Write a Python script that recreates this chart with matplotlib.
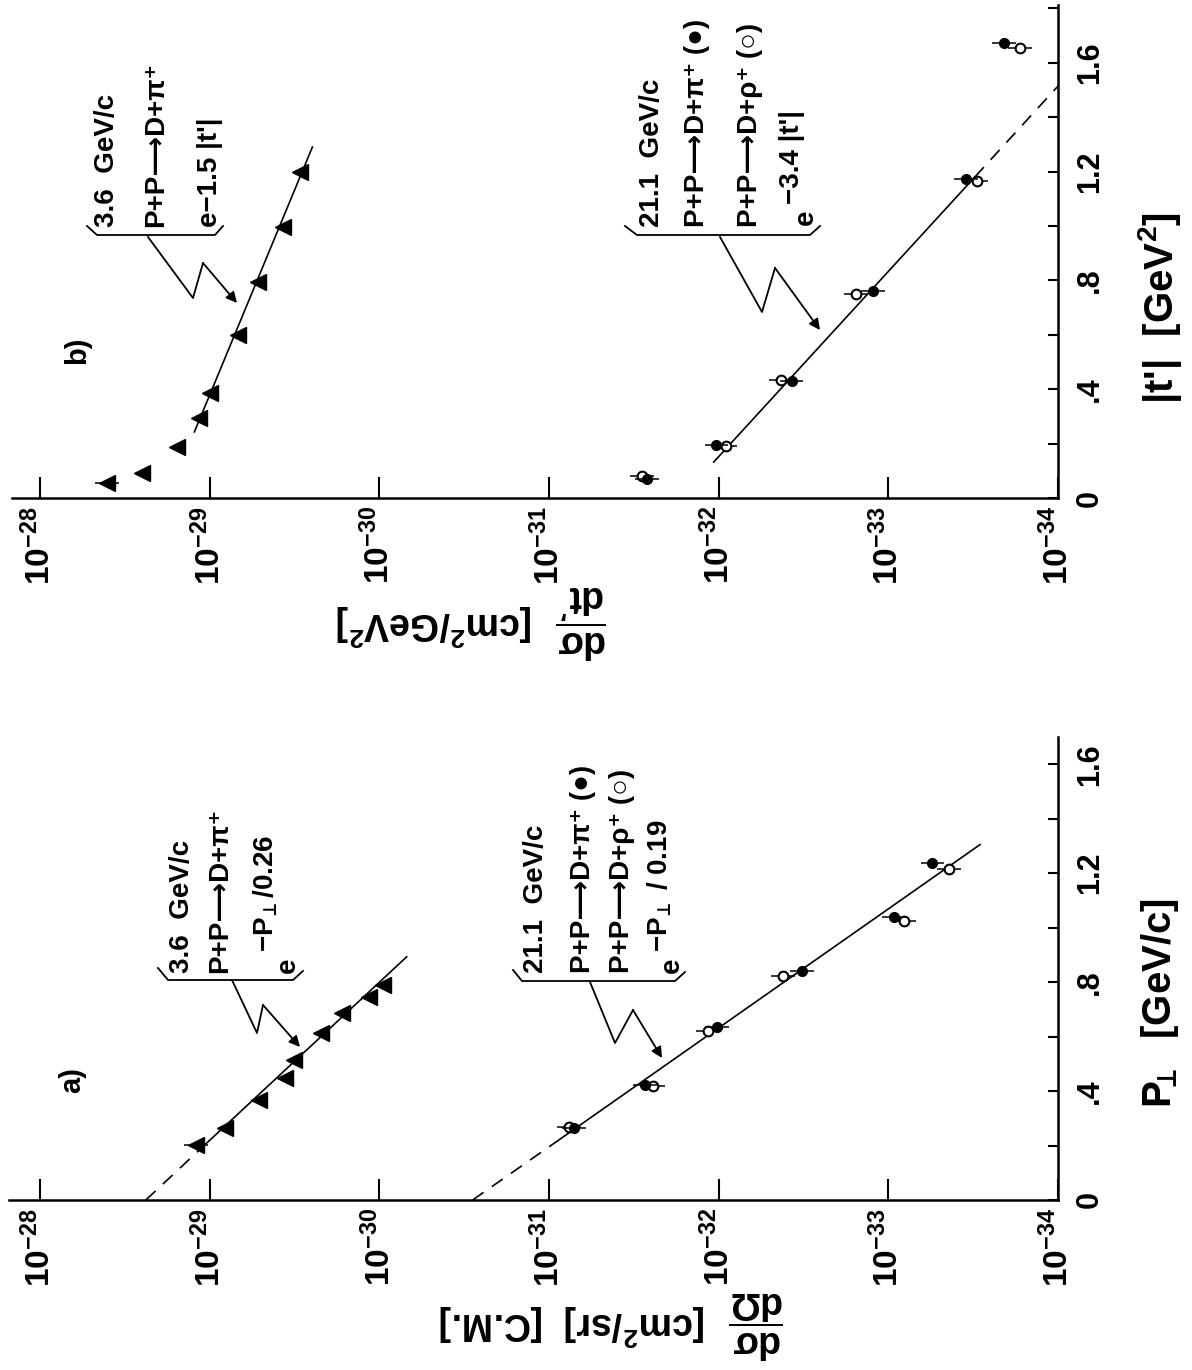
import numpy as np
import matplotlib
matplotlib.use("Agg")
import matplotlib.pyplot as plt
from matplotlib.lines import Line2D
from matplotlib.patches import FancyArrowPatch
from matplotlib.ticker import NullLocator, FixedLocator, FixedFormatter

plt.rcParams['font.family'] = ['Liberation Sans', 'DejaVu Sans']
plt.rcParams['font.weight'] = 'bold'
plt.rcParams['mathtext.fontset'] = 'custom'
for k in ('rm', 'it', 'bf', 'sf'):
    plt.rcParams['mathtext.' + k] = 'Liberation Sans:bold'
plt.rcParams['mathtext.fallback'] = 'stixsans'

W, H = 1192, 1370

# ---------------- data ----------------
# panel a) : dsigma/dOmega vs P_perp
pt_a36 = [0.202, 0.265, 0.368, 0.449, 0.515, 0.614, 0.688, 0.746, 0.790]
xs_a36 = [1.20e-29, 8.1e-30, 5.1e-30, 3.6e-30, 3.2e-30, 2.2e-30, 1.66e-30, 1.15e-30, 9.5e-31]

pt_a21_pi = [0.265, 0.423, 0.636, 0.842, 1.040, 1.239]
xs_a21_pi = [7.1e-32, 2.72e-32, 1.02e-32, 3.24e-33, 9.3e-34, 5.5e-34]
pt_a21_rho = [0.268, 0.419, 0.621, 0.824, 1.026, 1.217]
xs_a21_rho = [7.6e-32, 2.45e-32, 1.16e-32, 4.17e-33, 8.1e-34, 4.4e-34]

# fit lines (dashed part, then solid part)
fit_a36_P = [0.0, 0.184, 0.893]
fit_a36_x = [2.38e-29, 1.15e-29, 6.9e-31]
fit_a21_P = [0.0, 0.213, 1.305]
fit_a21_x = [2.82e-31, 9.1e-32, 2.88e-34]

# panel b) : dsigma/dt' vs |t'|
t_b36 = [0.055, 0.092, 0.188, 0.294, 0.386, 0.599, 0.794, 0.996, 1.199]
xs_b36 = [4.04e-29, 2.51e-29, 1.56e-29, 1.15e-29, 1.0e-29, 6.84e-30, 5.22e-30, 3.72e-30, 2.95e-30]

t_b21_pi = [0.070, 0.195, 0.430, 0.761, 1.173, 1.673]
xs_b21_pi = [2.65e-32, 1.03e-32, 3.72e-33, 1.23e-33, 3.47e-34, 2.09e-34]
t_b21_rho = [0.081, 0.191, 0.434, 0.750, 1.165, 1.654]
xs_b21_rho = [2.84e-32, 9.1e-33, 4.3e-33, 1.56e-33, 3.02e-34, 1.67e-34]

fit_b36_t = [0.243, 1.290]
fit_b36_x = [1.23e-29, 2.48e-30]
fit_b21_t = [0.132, 1.180, 1.514]   # solid, then dashed
fit_b21_x = [1.07e-32, 3.09e-34, 1.0e-34]

err_dec = 0.07   # half-length of the error bars in decades

log_ticks = [1e-28, 1e-29, 1e-30, 1e-31, 1e-32, 1e-33, 1e-34]
log_labels = [r"$\mathregular{10^{-%d}}$" % k for k in range(28, 35)]
p_ticks_a = [0.0, 0.2, 0.4, 0.6, 0.8, 1.0, 1.2, 1.4, 1.6]
p_labels_a = ["0", "", ".4", "", ".8", "", "1.2", "", "1.6"]
p_ticks_b = [0.0, 0.2, 0.4, 0.6, 0.8, 1.0, 1.2, 1.4, 1.6, 1.8]
p_labels_b = ["0", "", ".4", "", ".8", "", "1.2", "", "1.6", ""]

# ---------------- figure ----------------
fig = plt.figure(figsize=(W / 100, H / 100), dpi=100)
fig.patch.set_facecolor('white')


def fx(x):
    return x / W


def fy(y):
    return 1 - y / H


def make_axes(left, right, bottom, top, xleft, ymax, pticks, plabels):
    ax = fig.add_axes([fx(left), fy(bottom), (right - left) / W, (bottom - top) / H])
    ax.set_xscale('log')
    ax.set_xlim(xleft, 1e-34)
    ax.set_ylim(0, ymax)
    for s in ('top', 'left'):
        ax.spines[s].set_visible(False)
    for s in ('right', 'bottom'):
        ax.spines[s].set_linewidth(1.8)
    ax.xaxis.set_major_locator(FixedLocator(log_ticks))
    ax.xaxis.set_major_formatter(FixedFormatter(log_labels))
    ax.xaxis.set_minor_locator(NullLocator())
    ax.tick_params(axis='x', which='major', direction='in', length=15, width=1.5,
                   labelsize=24, labelrotation=90, pad=6, top=False)
    ax.yaxis.tick_right()
    ax.yaxis.set_major_locator(FixedLocator(pticks))
    ax.yaxis.set_major_formatter(FixedFormatter(plabels))
    ax.yaxis.set_minor_locator(NullLocator())
    ax.tick_params(axis='y', which='major', direction='in', length=7, width=1.5,
                   labelsize=22, labelrotation=90, pad=12, left=False, right=True)
    for lbl in ax.get_yticklabels():
        lbl.set_va('center')
    ax.patch.set_alpha(0)
    return ax


axA = make_axes(9, 1058, 1200, 737, 10 ** -27.817, 1.70, p_ticks_a, p_labels_a)
axB = make_axes(12, 1058, 498, 5, 10 ** -27.835, 1.812, p_ticks_b, p_labels_b)


def xerr_of(vals):
    v = np.asarray(vals)
    return [v - v * 10 ** (-err_dec), v * 10 ** err_dec - v]


def draw_pair(ax, P_pi, x_pi, P_rho, x_rho):
    ax.errorbar(x_rho, P_rho, xerr=xerr_of(x_rho), fmt='o', ms=7, mfc='white',
                mec='black', mew=1.5, ecolor='black', elinewidth=1.1, capsize=0, zorder=3)
    ax.errorbar(x_pi, P_pi, xerr=xerr_of(x_pi), fmt='o', ms=7, mfc='black',
                mec='black', ecolor='black', elinewidth=1.1, capsize=0, zorder=4)


def draw_tri(ax, P, x):
    ax.plot(x, P, linestyle='none', marker='<', ms=11, color='black', zorder=4)
    ax.errorbar(x[:1], P[:1], xerr=xerr_of(x[:1]), fmt='none', ecolor='black',
                elinewidth=1.1, capsize=0, zorder=3)


# panel a
draw_tri(axA, pt_a36, xs_a36)
draw_pair(axA, pt_a21_pi, xs_a21_pi, pt_a21_rho, xs_a21_rho)
for Pl, Xl in ((fit_a36_P, fit_a36_x), (fit_a21_P, fit_a21_x)):
    axA.plot(Xl[:2], Pl[:2], color='black', lw=1.2, dashes=(8, 6), clip_on=False)
    axA.plot(Xl[1:], Pl[1:], color='black', lw=1.2)

# panel b
draw_tri(axB, t_b36, xs_b36)
draw_pair(axB, t_b21_pi, xs_b21_pi, t_b21_rho, xs_b21_rho)
axB.plot(fit_b36_x, fit_b36_t, color='black', lw=1.2)
axB.plot(fit_b21_x[:2], fit_b21_t[:2], color='black', lw=1.2)
axB.plot(fit_b21_x[1:], fit_b21_t[1:], color='black', lw=1.2, dashes=(8, 6))

# ---------------- annotations (pixel positions) ----------------
ann_fs = 20


def vtext(s, cx, by, fs=ann_fs):
    fig.text(fx(cx), fy(by), s, rotation=90, ha='center', va='bottom', fontsize=fs)


def poly(pts):
    xs = [fx(p[0]) for p in pts]
    ys = [fy(p[1]) for p in pts]
    fig.add_artist(Line2D(xs, ys, color='black', lw=1.3, transform=fig.transFigure))


def zigzag(pts):
    poly(pts[:3])
    arr = FancyArrowPatch((fx(pts[2][0]), fy(pts[2][1])), (fx(pts[3][0]), fy(pts[3][1])),
                          arrowstyle='-|>', mutation_scale=16, color='black', lw=1.3,
                          shrinkA=0, shrinkB=0, transform=fig.transFigure)
    fig.add_artist(arr)


PI_LINE = "P+P\u27f6D+\u03c0\u207a"
RHO_LINE = "P+P\u27f6D+\u03c1\u207a"
PERP = r"$\mathregular{P_{\!\!\!\bot}}$"

# a) 3.6 GeV/c
vtext("3.6  GeV/c", 182, 973)
vtext(PI_LINE, 220, 973)
vtext("e", 288, 973)
vtext(r"$\mathregular{-P_{\!\bot}}$/0.26", 266, 952)
poly([(158, 968), (168, 980), (293, 980), (303, 971)])
zigzag([(232, 980), (257, 1033), (263, 1005), (300, 1047)])

# a) 21.1 GeV/c
vtext("21.1  GeV/c", 536, 973)
vtext(PI_LINE + " (\u25cf)", 583, 973)
vtext(RHO_LINE + " (\u25cb)", 622, 973)
vtext("e", 672, 973)
vtext(r"$\mathregular{-P_{\!\bot}}$ / 0.19", 660, 952)
poly([(513, 970), (522, 981), (675, 981), (685, 972)])
zigzag([(590, 982), (615, 1043), (633, 1010), (662, 1058)])

# b) 3.6 GeV/c
vtext("3.6  GeV/c", 107, 227)
vtext(PI_LINE, 156, 227)
vtext("e\u22121.5 |t'|", 210, 227)
poly([(87, 226), (97, 235), (215, 235), (223, 226)])
zigzag([(148, 237), (193, 298), (203, 263), (237, 303)])

# b) 21.1 GeV/c
vtext("21.1  GeV/c", 652, 227)
vtext(PI_LINE + " (\u25cf)", 697, 227)
vtext(RHO_LINE + " (\u25cb)", 750, 227)
vtext("e", 806, 225)
vtext("\u22123.4 |t'|", 792, 204)
poly([(625, 226), (637, 235), (810, 235), (820, 226)])
zigzag([(720, 237), (762, 312), (775, 268), (820, 330)])

# panel letters
fig.text(fx(72), fy(1080), "a)", rotation=90, ha='center', va='center', fontsize=21)
fig.text(fx(77), fy(350), "b)", rotation=90, ha='center', va='center', fontsize=21)

# axis titles
fig.text(fx(1160), fy(1003), PERP + "  [GeV/c]", rotation=90, ha='center',
         va='center', fontsize=29)
fig.text(fx(1160), fy(308), r"|t'|  [GeV$\mathregular{^2}$]", rotation=90, ha='center',
         va='center', fontsize=29)
fig.text(fx(612), fy(1325), r"$\dfrac{d\sigma}{d\Omega}$  [cm$\mathregular{^2}$/sr]  [C.M.]",
         rotation=180, ha='center', va='center', fontsize=27)
fig.text(fx(472), fy(622), r"$\dfrac{d\sigma}{dt'}$  [cm$\mathregular{^2}$/GeV$\mathregular{^2}$]",
         rotation=180, ha='center', va='center', fontsize=27)

fig.savefig("out.png", dpi=100, facecolor='white')
